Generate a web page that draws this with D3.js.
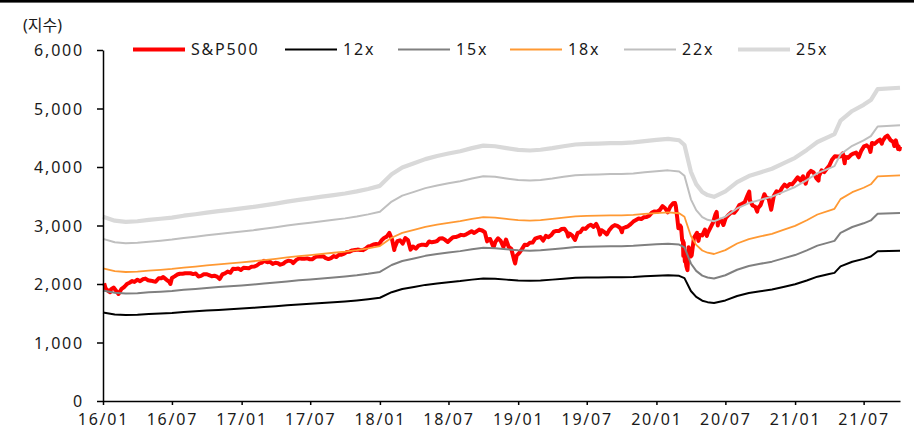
<!DOCTYPE html>
<html><head><meta charset="utf-8">
<script src="https://cdn.jsdelivr.net/npm/d3@7"></script>
<style>
html,body{margin:0;padding:0;background:#fff;}
svg text{font-family:"Noto Sans","Noto Sans CJK KR",sans-serif;font-size:16px;fill:#1a1a1a;letter-spacing:1.8px;}
</style></head>
<body><svg id="c" width="914" height="437"></svg>
<script>
// ---------- DATA ----------
const yUnit = "(지수)";
const seriesNames = ["S&P500", "12x", "15x", "18x", "22x", "25x"];
const multiples = [12, 15, 18, 22, 25];
const yTicks = [0, 1000, 2000, 3000, 4000, 5000, 6000];
const xTickLabels = ["16/01","16/07","17/01","17/07","18/01","18/07","19/01","19/07","20/01","20/07","21/01","21/07"];

// 12-month forward EPS (read as 12x band / 12)
const epsDates = ["16-01-01","16-02-01","16-03-01","16-04-01","16-05-01","16-06-01","16-07-01","16-08-01","16-09-01","16-10-01","16-11-01","16-12-01",
"17-01-01","17-02-01","17-03-01","17-04-01","17-05-01","17-06-01","17-07-01","17-08-01","17-09-01","17-10-01","17-11-01","17-12-01",
"18-01-01","18-02-01","18-03-01","18-04-01","18-05-01","18-06-01","18-07-01","18-08-01","18-09-01","18-10-01","18-11-01","18-12-01",
"19-01-01","19-02-01","19-03-01","19-04-01","19-05-01","19-06-01","19-07-01","19-08-01","19-09-01","19-10-01","19-11-01","19-12-01",
"20-01-01","20-02-01","20-03-01","20-03-15","20-04-01","20-04-15","20-05-01","20-05-15","20-06-01","20-07-01","20-08-01","20-09-01","20-10-01","20-11-01","20-12-01",
"21-01-01","21-02-01","21-03-01","21-04-01","21-04-15","21-05-01","21-06-01","21-07-01","21-07-20","21-08-07","21-10-05"];
const epsValues = [126.0,123.3,122.5,122.9,123.8,124.6,125.4,126.7,127.7,128.8,129.8,130.7,
131.7,132.7,133.8,135.0,136.3,137.5,138.5,139.7,140.8,141.9,143.3,145.0,
147.1,155.0,159.6,162.5,165.4,167.5,169.2,170.8,172.9,174.6,174.2,172.9,
171.7,171.3,171.8,172.9,174.2,175.4,175.8,176.0,176.3,176.3,176.8,177.7,
178.5,179.2,178.3,175.0,156.7,148.3,142.9,140.8,139.6,143.3,149.6,153.8,156.3,158.8,162.5,
166.3,171.7,177.1,180.8,182.5,191.7,198.3,202.5,205.8,213.3,214.2];

// S&P500 index level
const spxDates = ["16-01-04","16-01-08","16-01-15","16-01-20","16-01-22","16-01-29","16-02-05","16-02-11","16-02-19","16-02-26","16-03-04","16-03-11","16-03-18","16-03-24","16-04-01","16-04-08","16-04-15","16-04-22","16-04-29","16-05-06","16-05-13","16-05-19","16-05-27","16-06-03","16-06-08","16-06-17","16-06-24","16-06-27","16-07-01","16-07-08","16-07-15","16-07-22","16-07-29","16-08-05","16-08-12","16-08-19","16-08-26","16-09-02","16-09-09","16-09-16","16-09-23","16-09-30","16-10-07","16-10-14","16-10-21","16-10-28","16-11-04","16-11-11","16-11-18","16-11-25","16-12-02","16-12-09","16-12-16","16-12-23","16-12-30",
"17-01-06","17-01-13","17-01-20","17-01-27","17-02-03","17-02-10","17-02-17","17-02-24","17-03-01","17-03-10","17-03-17","17-03-24","17-03-31","17-04-07","17-04-13","17-04-21","17-04-28","17-05-05","17-05-12","17-05-17","17-05-26","17-06-02","17-06-09","17-06-16","17-06-23","17-06-30","17-07-07","17-07-14","17-07-21","17-07-28","17-08-04","17-08-11","17-08-18","17-08-25","17-09-01","17-09-08","17-09-15","17-09-22","17-09-29","17-10-06","17-10-13","17-10-20","17-10-27","17-11-03","17-11-10","17-11-17","17-11-24","17-12-01","17-12-08","17-12-15","17-12-22","17-12-29",
"18-01-05","18-01-12","18-01-19","18-01-26","18-02-02","18-02-08","18-02-09","18-02-16","18-02-23","18-03-02","18-03-09","18-03-16","18-03-23","18-03-29","18-04-06","18-04-13","18-04-20","18-04-27","18-05-04","18-05-11","18-05-18","18-05-25","18-06-01","18-06-08","18-06-15","18-06-22","18-06-29","18-07-06","18-07-13","18-07-20","18-07-27","18-08-03","18-08-10","18-08-17","18-08-24","18-08-31","18-09-07","18-09-14","18-09-20","18-09-28","18-10-05","18-10-11","18-10-12","18-10-19","18-10-26","18-10-29","18-11-02","18-11-09","18-11-16","18-11-23","18-11-30","18-12-07","18-12-14","18-12-21","18-12-24","18-12-28",
"19-01-04","19-01-11","19-01-18","19-01-25","19-02-01","19-02-08","19-02-15","19-02-22","19-03-01","19-03-08","19-03-15","19-03-22","19-03-29","19-04-05","19-04-12","19-04-18","19-04-26","19-05-03","19-05-10","19-05-13","19-05-17","19-05-24","19-05-31","19-06-07","19-06-14","19-06-21","19-06-28","19-07-05","19-07-12","19-07-19","19-07-26","19-08-02","19-08-05","19-08-09","19-08-16","19-08-23","19-08-30","19-09-06","19-09-13","19-09-20","19-09-27","19-10-02","19-10-04","19-10-11","19-10-18","19-10-25","19-11-01","19-11-08","19-11-15","19-11-22","19-11-29","19-12-06","19-12-13","19-12-20","19-12-27",
"20-01-03","20-01-10","20-01-17","20-01-24","20-01-31","20-02-07","20-02-14","20-02-19","20-02-21","20-02-25","20-02-28","20-03-03","20-03-06","20-03-09","20-03-11","20-03-12","20-03-13","20-03-16","20-03-18","20-03-20","20-03-23","20-03-26","20-03-27","20-04-01","20-04-03","20-04-09","20-04-17","20-04-21","20-04-24","20-05-01","20-05-08","20-05-13","20-05-15","20-05-22","20-05-29","20-06-05","20-06-08","20-06-11","20-06-12","20-06-19","20-06-26","20-07-02","20-07-10","20-07-17","20-07-24","20-07-31","20-08-07","20-08-14","20-08-21","20-08-28","20-09-02","20-09-04","20-09-11","20-09-18","20-09-23","20-09-25","20-10-02","20-10-09","20-10-12","20-10-16","20-10-23","20-10-30","20-11-06","20-11-13","20-11-20","20-11-27","20-12-04","20-12-11","20-12-18","20-12-24","20-12-31",
"21-01-08","21-01-15","21-01-22","21-01-29","21-02-05","21-02-12","21-02-19","21-02-26","21-03-04","21-03-05","21-03-12","21-03-19","21-03-26","21-04-01","21-04-09","21-04-16","21-04-23","21-04-30","21-05-07","21-05-12","21-05-14","21-05-21","21-05-28","21-06-04","21-06-11","21-06-18","21-06-25","21-07-02","21-07-09","21-07-16","21-07-19","21-07-23","21-07-30","21-08-06","21-08-13","21-08-18","21-08-20","21-08-27","21-09-02","21-09-10","21-09-17","21-09-20","21-09-24","21-09-30","21-10-01","21-10-04","21-10-05"];
const spxValues = [2012,1922,1880,1859,1907,1940,1880,1829,1918,1948,1999,2022,2050,2035,2073,2048,2081,2092,2065,2057,2047,2040,2099,2099,2119,2071,2037,2001,2103,2130,2162,2175,2174,2183,2184,2184,2169,2180,2128,2139,2165,2168,2153,2133,2141,2126,2085,2164,2182,2213,2192,2259,2258,2264,2239,
2277,2275,2271,2295,2297,2316,2351,2367,2396,2372,2378,2344,2363,2355,2329,2349,2384,2399,2390,2357,2416,2439,2432,2433,2438,2423,2425,2459,2472,2472,2476,2441,2426,2443,2477,2461,2500,2502,2519,2549,2553,2575,2581,2588,2582,2579,2602,2642,2652,2675,2683,2674,
2743,2787,2810,2873,2762,2581,2620,2732,2747,2691,2786,2752,2588,2641,2604,2656,2670,2670,2663,2728,2713,2721,2735,2779,2780,2755,2718,2760,2801,2802,2819,2840,2833,2850,2875,2902,2872,2905,2930,2914,2885,2729,2767,2768,2658,2641,2723,2781,2736,2633,2760,2633,2600,2417,2351,2486,
2532,2596,2671,2665,2707,2708,2776,2793,2804,2743,2822,2800,2834,2893,2907,2905,2940,2946,2881,2812,2860,2826,2752,2873,2887,2950,2942,2990,3014,2977,3026,2932,2844,2919,2889,2847,2926,2979,3007,2992,2962,2887,2952,2970,2986,3023,3067,3093,3120,3110,3141,3146,3169,3221,3240,
3235,3265,3330,3295,3226,3328,3380,3386,3338,3128,2954,3003,2972,2747,2741,2481,2711,2386,2398,2305,2237,2630,2541,2471,2489,2790,2875,2737,2837,2831,2930,2820,2864,2955,3044,3194,3232,3002,3041,3098,3009,3130,3185,3225,3216,3271,3351,3373,3397,3508,3580,3427,3341,3320,3237,3298,3348,3477,3534,3483,3465,3270,3509,3585,3557,3638,3699,3663,3709,3703,3756,
3824,3768,3841,3714,3887,3934,3906,3811,3768,3842,3943,3913,3975,4020,4129,4185,4180,4181,4233,4063,4174,4156,4204,4230,4247,4166,4281,4352,4370,4327,4258,4412,4395,4437,4468,4400,4442,4509,4537,4458,4433,4358,4455,4308,4357,4300,4346];

// ---------- CHART ----------
const parse = d3.timeParse("%y-%m-%d");
const parseTick = d3.timeParse("%y/%m");
const svg = d3.select("#c");

const x = d3.scaleTime().domain([parse("16-01-01"), parse("21-10-05")]).range([103, 900]);
const y = d3.scaleLinear().domain([0, 6000]).range([401, 50]);

svg.append("rect").attr("x", 0).attr("y", 0).attr("width", 914).attr("height", 2.6).attr("fill", "#000");

svg.append("text").attr("x", 23).attr("y", 25).attr("dy", "0.35em").style("letter-spacing", "0px").text(yUnit);

const colors = ["#ff0000", "#000000", "#808080", "#ff9933", "#bfbfbf", "#d9d9d9"];
const widths = [4, 2, 2, 1.8, 2, 4.2];

const line = d3.line().x(d => x(d[0])).y(d => y(d[1]));

// S&P500 first (underneath)
const spx = spxDates.map((d, i) => [parse(d), spxValues[i]]);
svg.append("path").datum(spx).attr("d", line).attr("fill", "none")
  .attr("stroke", colors[0]).attr("stroke-width", widths[0]).attr("stroke-linejoin", "round");

multiples.forEach((m, k) => {
  const pts = epsDates.map((d, i) => [parse(d), epsValues[i] * m]);
  svg.append("path").datum(pts).attr("d", line).attr("fill", "none")
    .attr("stroke", colors[k + 1]).attr("stroke-width", widths[k + 1]).attr("stroke-linejoin", "round");
});

// axes
const yAxis = d3.axisLeft(y).tickValues(yTicks).tickSize(6).tickSizeOuter(0).tickPadding(13).tickFormat(d3.format(","));
const gy = svg.append("g").attr("transform", "translate(103,0)").call(yAxis);
const xAxis = d3.axisBottom(x).tickValues(xTickLabels.map(parseTick)).tickSize(4).tickSizeOuter(0).tickPadding(9).tickFormat(d3.timeFormat("%y/%m"));
const gx = svg.append("g").attr("transform", "translate(0,401)").call(xAxis);
[gy, gx].forEach(g => {
  g.selectAll("path.domain").attr("stroke", "#000").attr("stroke-width", 1.5);
  g.selectAll(".tick line").attr("stroke", "#000").attr("stroke-width", 1.5);
  g.selectAll("text").attr("font-family", null).attr("font-size", null).style("fill", "#1a1a1a");
});
gy.selectAll("text").attr("dy", "0.35em");
gx.selectAll("text").attr("dy", "0.71em");

// legend
const legX = [133, 285, 398, 510, 624, 738];
seriesNames.forEach((n, i) => {
  svg.append("line").attr("x1", legX[i]).attr("x2", legX[i] + 52).attr("y1", 49.5).attr("y2", 49.5)
    .attr("stroke", colors[i]).attr("stroke-width", widths[i]);
  svg.append("text").attr("x", legX[i] + 58).attr("y", 49.5).attr("dy", "0.35em").text(n);
});
</script></body></html>
